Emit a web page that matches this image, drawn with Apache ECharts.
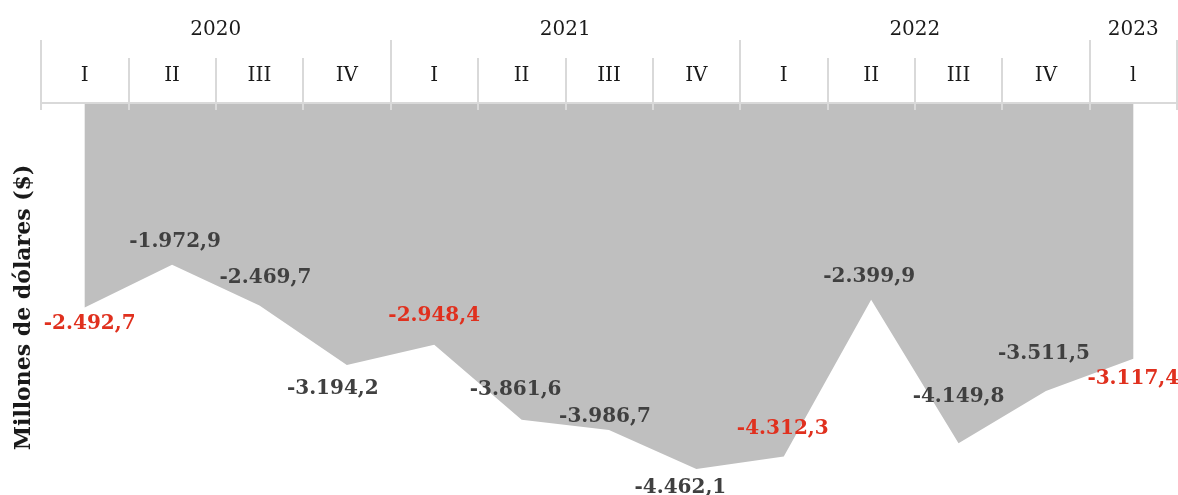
<!DOCTYPE html>
<html>
<head>
<meta charset="utf-8">
<script src="https://cdn.jsdelivr.net/npm/echarts@6/dist/echarts.min.js"></script>
<style>
  html, body { margin: 0; padding: 0; background: #ffffff; }
  #chart { width: 1178px; height: 495px; }
</style>
</head>
<body>
<div id="chart"></div>
<script>
// data
var quarters = ['I', 'II', 'III', 'IV', 'I', 'II', 'III', 'IV', 'I', 'II', 'III', 'IV', 'l']
var years = ['2020', '2021', '2022', '2023']
var yearSpans = [4, 4, 4, 1]
var values = [-2492.7, -1972.9, -2469.7, -3194.2, -2948.4, -3861.6, -3986.7, -4462.1, -4312.3, -2399.9, -4149.8, -3511.5, -3117.4]

// label placement, one per point
var labelPos = ['bottom', 'top', 'top', 'bottom', 'top', 'top', 'top', 'bottom', 'top', 'top', 'top', 'top', 'bottom']
var labelOffsets = [[5, 1], [3, -7], [6, -12], [-14, 8], [0, -13], [-6, -14], [-4, 2], [-16, 3], [-1, -12], [-2, -7], [0, -31], [-2, -22], [0, 5]]

var SERIF = "'DejaVu Serif', 'Liberation Serif', serif"
var LINE = '#d9d9d9'

function fmt(v) {
  var s = Math.abs(v).toFixed(1).split('.')
  var ent = s[0].replace(/\B(?=(\d{3})+(?!\d))/g, '.')
  return (v < 0 ? '-' : '') + ent + ',' + s[1]
}

// boundaries and centers for the year row
var yearTicks = [0]
var yearCenters = []
var acc = 0
for (var i = 0; i < yearSpans.length; i++) {
  yearCenters.push(acc + yearSpans[i] / 2)
  acc += yearSpans[i]
  yearTicks.push(acc)
}

var seriesData = values.map(function (v, i) {
  return {
    value: v,
    label: {
      position: labelPos[i],
      color: i % 4 === 0 ? '#e0301e' : '#404040'
    }
  }
})

var chart = echarts.init(document.getElementById('chart'), null, { renderer: 'canvas' })
chart.setOption({
  animation: false,
  grid: { left: 41, right: 1, top: 103, bottom: 23 },
  xAxis: [
    {
      type: 'category',
      position: 'top',
      data: quarters,
      boundaryGap: true,
      z: 5,
      axisLine: { show: true, lineStyle: { color: LINE, width: 2 } },
      axisTick: { show: true, length: 45, lineStyle: { color: LINE, width: 2 } },
      axisLabel: { margin: 17, color: '#1a1a1a', fontFamily: SERIF, fontSize: 20 },
      splitLine: { show: false }
    },
    {
      type: 'category',
      position: 'top',
      data: quarters,
      boundaryGap: true,
      z: 5,
      axisLine: { show: false },
      axisTick: { show: true, inside: true, length: 7, lineStyle: { color: LINE, width: 2 } },
      axisLabel: { show: false },
      splitLine: { show: false }
    },
    {
      type: 'value',
      position: 'top',
      offset: 45,
      min: 0,
      max: quarters.length,
      z: 5,
      axisLine: { show: false },
      axisTick: { show: true, length: 18, customValues: yearTicks, lineStyle: { color: LINE, width: 2 } },
      axisLabel: {
        show: true,
        margin: 18,
        customValues: yearCenters,
        color: '#1a1a1a',
        fontFamily: SERIF,
        fontSize: 20,
        formatter: function (v) {
          var k = yearCenters.indexOf(v)
          return k >= 0 ? years[k] : ''
        }
      },
      splitLine: { show: false }
    }
  ],
  yAxis: {
    type: 'value',
    min: -4500,
    max: 0,
    axisLine: { show: false },
    axisTick: { show: false },
    axisLabel: { show: false },
    splitLine: { show: false },
    name: 'Millones de dólares ($)',
    nameLocation: 'middle',
    nameGap: 6,
    nameTextStyle: {
      fontFamily: SERIF,
      fontSize: 22,
      fontWeight: 'bold',
      color: '#1a1a1a',
      padding: [0, 40, 0, 0]
    }
  },
  series: [
    {
      type: 'line',
      xAxisIndex: 0,
      data: seriesData,
      symbol: 'circle',
      symbolSize: 1,
      showSymbol: true,
      itemStyle: { color: 'rgba(0,0,0,0)' },
      lineStyle: { width: 0 },
      areaStyle: { color: '#bfbfbf', opacity: 1 },
      label: {
        show: true,
        fontFamily: SERIF,
        fontSize: 20,
        fontWeight: 'bold',
        formatter: function (p) { return fmt(p.value) }
      },
      labelLayout: function (p) {
        var o = labelOffsets[p.dataIndex]
        return { dx: o[0], dy: o[1], hideOverlap: false }
      },
      z: 2
    }
  ]
})
</script>
</body>
</html>
